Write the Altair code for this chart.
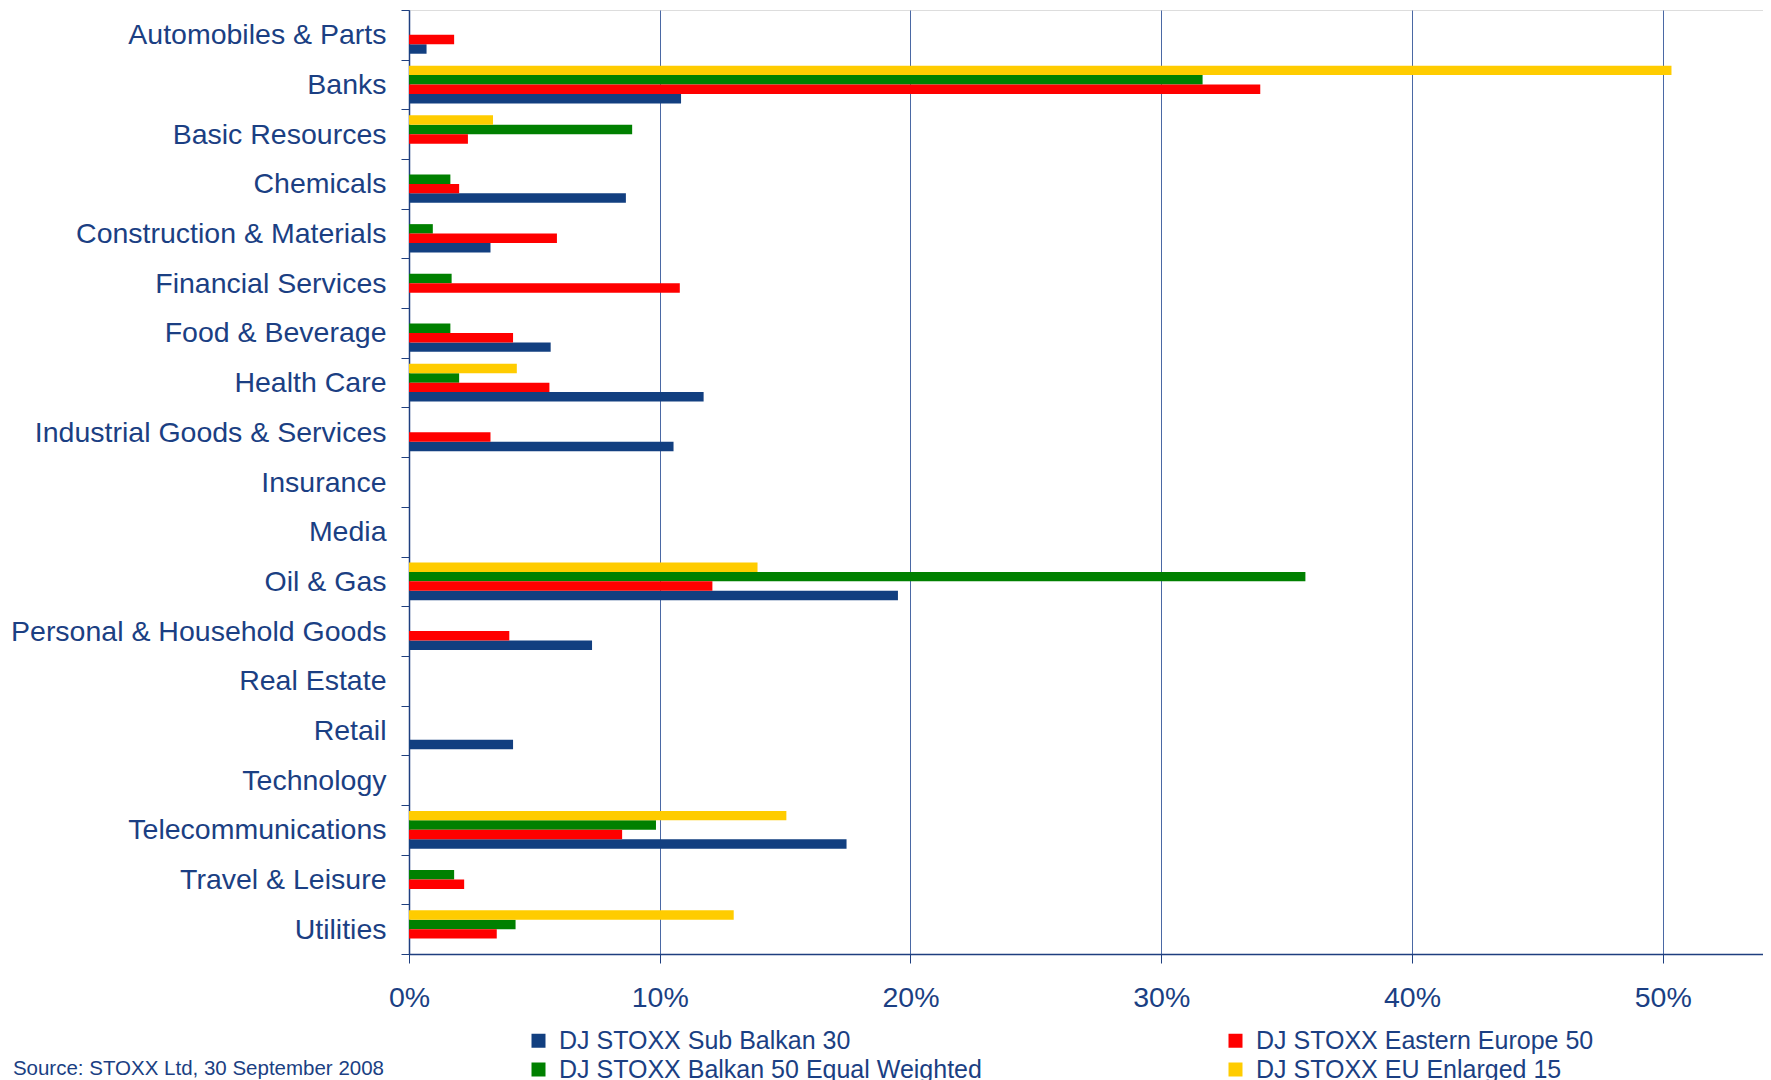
import altair as alt
import pandas as pd

categories = [
    "Automobiles & Parts", "Banks", "Basic Resources", "Chemicals",
    "Construction & Materials", "Financial Services", "Food & Beverage",
    "Health Care", "Industrial Goods & Services", "Insurance", "Media",
    "Oil & Gas", "Personal & Household Goods", "Real Estate", "Retail",
    "Technology", "Telecommunications", "Travel & Leisure", "Utilities",
]

sub_balkan_30 = [0.7, 10.85, 0, 8.65, 3.25, 0, 5.65, 11.75, 10.55, 0, 0,
                 19.5, 7.3, 0, 4.15, 0, 17.45, 0, 0]
eastern_europe_50 = [1.8, 33.95, 2.35, 2.0, 5.9, 10.8, 4.15, 5.6, 3.25, 0, 0,
                     12.1, 4.0, 0, 0, 0, 8.5, 2.2, 3.5]
balkan_50_ew = [0, 31.65, 8.9, 1.65, 0.95, 1.7, 1.65, 2.0, 0, 0, 0,
                35.75, 0, 0, 0, 0, 9.85, 1.8, 4.25]
eu_enlarged_15 = [0, 50.35, 3.35, 0, 0, 0, 0, 4.3, 0, 0, 0,
                  13.9, 0, 0, 0, 0, 15.05, 0, 12.95]

# legend order (filled column by column: left column first)
series_names = [
    "DJ STOXX Sub Balkan 30",
    "DJ STOXX Balkan 50 Equal Weighted",
    "DJ STOXX Eastern Europe 50",
    "DJ STOXX EU Enlarged 15",
]
series_colors = ["#123F80", "#008000", "#FF0000", "#FFCC00"]
series_values = [sub_balkan_30, balkan_50_ew, eastern_europe_50, eu_enlarged_15]
# order of the bars inside each category, top to bottom
bar_order = [
    "DJ STOXX EU Enlarged 15",
    "DJ STOXX Balkan 50 Equal Weighted",
    "DJ STOXX Eastern Europe 50",
    "DJ STOXX Sub Balkan 30",
]

x_ticks = [0, 10, 20, 30, 40, 50]
source_text = ["Source: STOXX Ltd, 30 September 2008"]

rows = []
for name, vals in zip(series_names, series_values):
    for cat, v in zip(categories, vals):
        if v > 0:
            rows.append({"category": cat, "series": name, "value": v})
df = pd.DataFrame(rows)

TEXT = "#1B3F83"
LINE = "#1F3F7F"
FONT = "Liberation Sans"

bars = alt.Chart(df).mark_bar().encode(
    x=alt.X(
        "value:Q",
        scale=alt.Scale(domain=[0, 54.0], nice=False, zero=True),
        axis=alt.Axis(
            values=x_ticks, labelExpr="datum.value + '%'", title=None,
            grid=True, gridColor="#4A68A4", gridWidth=1,
            tickSize=9, tickColor=LINE, labelPadding=20, labelFlush=False,
            labelFontSize=28.5, labelColor=TEXT, labelFont=FONT,
            domainColor=LINE, domainWidth=1.5,
        ),
    ),
    y=alt.Y(
        "category:N", sort=categories,
        scale=alt.Scale(domain=categories, paddingInner=0, paddingOuter=0),
        axis=alt.Axis(
            title=None, tickBand="extent", ticks=True, tickSize=8,
            tickColor=LINE, labelPadding=15, labelFontSize=28.5,
            labelColor=TEXT, labelFont=FONT, labelLimit=600,
            domainColor=LINE, domainWidth=1.5, grid=False,
        ),
    ),
    yOffset=alt.YOffset(
        "series:N", sort=bar_order,
        scale=alt.Scale(domain=bar_order, paddingInner=0, paddingOuter=0.63),
    ),
    color=alt.Color(
        "series:N",
        scale=alt.Scale(domain=series_names, range=series_colors),
        legend=alt.Legend(
            title=None, orient="none", legendX=117, legendY=1018,
            columns=2, columnPadding=241, rowPadding=3,
            symbolType="square", symbolSize=196, symbolStrokeWidth=0,
            labelFontSize=25, labelColor=TEXT, labelFont=FONT,
            labelOffset=8, labelLimit=700, padding=0,
        ),
    ),
)

src = alt.Chart(pd.DataFrame({"text": source_text})).mark_text(
    align="right", baseline="alphabetic", fontSize=20.5, color=TEXT, font=FONT,
).encode(
    text="text:N",
    x=alt.value(-25),
    y=alt.value(1065),
)

chart = alt.layer(bars, src).properties(
    width=1354,
    height=944,
    autosize=alt.AutoSizeParams(type="none"),
    padding={"left": 401, "top": 2, "right": 0, "bottom": 130},
).configure_view(
    stroke="#8CA0C8", strokeWidth=2,
).configure(font=FONT)

chart.save("out.html", embed_options={"renderer": "svg", "actions": False})
